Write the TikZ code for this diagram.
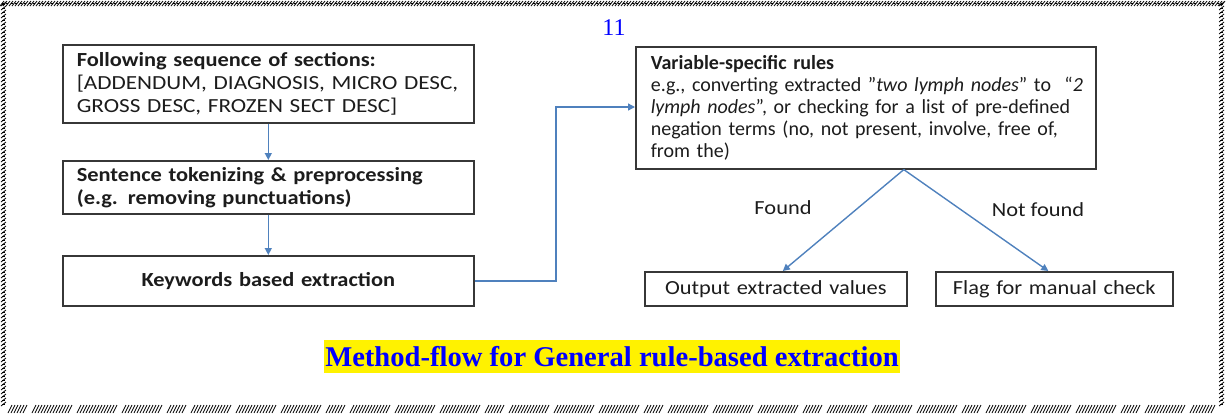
\documentclass[tikz,border=0pt]{standalone}
\usepackage{fontspec}
\setmainfont{Carlito}[FakeStretch=1.12]
\newfontfamily\rulefont{Carlito}
\newfontfamily\listfont{Carlito}[FakeStretch=1.16]
\newfontfamily\capfont{Liberation Serif}
\usetikzlibrary{arrows.meta,calc}
\definecolor{flowblue}{RGB}{79,129,189}
\definecolor{edge}{RGB}{55,55,55}
\definecolor{ink}{RGB}{28,28,28}
\definecolor{pageblue}{RGB}{0,0,255}
\begin{document}
\begin{tikzpicture}[x=1pt,y=-1pt,
  stepbox/.style={draw=edge, line width=1.6pt, anchor=north west, inner xsep=14pt,
    inner ysep=0pt, text=ink, font=\fontsize{20}{23}\selectfont},
  flow/.style={draw=flowblue, line width=1.4pt, -{Triangle[length=7pt,width=7pt]}},
  tag/.style={text=ink, font=\fontsize{20}{23}\selectfont},
  ornament/.style={draw=black, line width=0.8pt}
]
\useasboundingbox (0,0) rectangle (1226,416);

% ---- decorative page frame ----
\foreach \x in {0,3,...,1222} \draw[ornament] (\x,6) -- (\x+4,1);
\foreach \x in {1.5,6,...,1222} \draw[ornament,line width=0.5pt] (\x,3.5) -- (\x+2,3.5);
\foreach \y in {2,6,...,402} {
  \draw[ornament] (1,\y+4) -- (6,\y);
  \draw[ornament,line width=0.5pt] (2,\y+2) -- (5,\y+2);
  \draw[ornament] (1219,\y+4) -- (1224,\y);
  \draw[ornament,line width=0.5pt] (1220,\y+2) -- (1223,\y+2);
}
\foreach \k in {0,...,7} {
  \foreach \s/\l in {0/15,24/36,69/36,114/36} {
    \pgfmathsetmacro{\st}{8+159*\k+\s}
    \foreach \t in {0,3,...,\l} {
      \pgfmathsetmacro{\xx}{\st+\t}
      \ifdim \xx pt<1214pt \draw[ornament] (\xx,413) -- (\xx+4,405); \fi
    }
  }
}

% ---- page number ----
\node[text=pageblue, font=\capfont\fontsize{24}{24}\selectfont] (pg) at (614,28) {11};

% ---- left column ----
\node[stepbox, text width=383pt, minimum width=411pt, minimum height=78pt, align=left]
  (b1) at (62,44) {\textbf{Following sequence of sections:}\\
  {\listfont {[}ADDENDUM, DIAGNOSIS, MICRO DESC,}\\
  {\listfont GROSS DESC, FROZEN SECT DESC{]}}};
\node[stepbox, text width=383pt, minimum width=411pt, minimum height=53pt, align=left,
  font=\bfseries\fontsize{20}{23}\selectfont]
  (b2) at (62,160) {Sentence tokenizing \& preprocessing\\ (e.g. removing punctuations)};
\node[stepbox, text width=383pt, minimum width=411pt, minimum height=50pt, align=center,
  font=\bfseries\fontsize{20}{23}\selectfont]
  (b3) at (62,255) {Keywords based extraction};

% ---- right column ----
\node[stepbox, inner xsep=15pt, text width=430pt, minimum width=460pt, minimum height=122pt,
  align=left, font=\rulefont\fontsize{20}{22}\selectfont]
  (b4) at (635,46) {\mbox{\textbf{Variable-specific rules}}\\
  \mbox{e.g., converting extracted ”\textit{two lymph nodes}” to \ “\textit{2}}\\
  \mbox{\textit{lymph nodes}”, or checking for a list of pre-defined}\\
  \mbox{negation terms (no, not present, involve, free of,}\\
  \mbox{from the)}};
\node[stepbox, text width=234pt, minimum width=262pt, minimum height=34pt, align=center]
  (b5) at (644,271) {Output extracted values};
\node[stepbox, text width=209pt, minimum width=237pt, minimum height=34pt, align=center]
  (b6) at (935,271) {Flag for manual check};

% ---- connectors ----
\draw[flow] (b1.south) -- (b2.north);
\draw[flow] (b2.south) -- (b3.north);
\coordinate (turn) at (556,107);
\draw[flow] (b3.east) -| (turn) -- (turn -| b4.west);
\coordinate (split) at ([xshift=38pt]b4.south);
\draw[flow] (split) -- ([xshift=7pt]b5.north);
\draw[flow] (split) -- ([xshift=-6pt]b6.north);
\node[tag] (found) at (783,208) {Found};
\node[tag] (notfound) at (1038,210) {Not found};

% ---- caption ----
\node[fill=yellow, text=pageblue, inner xsep=1pt, inner ysep=0pt, minimum height=33pt,
  font=\capfont\bfseries\fontsize{28.6}{30}\selectfont]
  (cap) at (612,356.5) {Method-flow for General rule-based extraction};
\end{tikzpicture}
\end{document}
